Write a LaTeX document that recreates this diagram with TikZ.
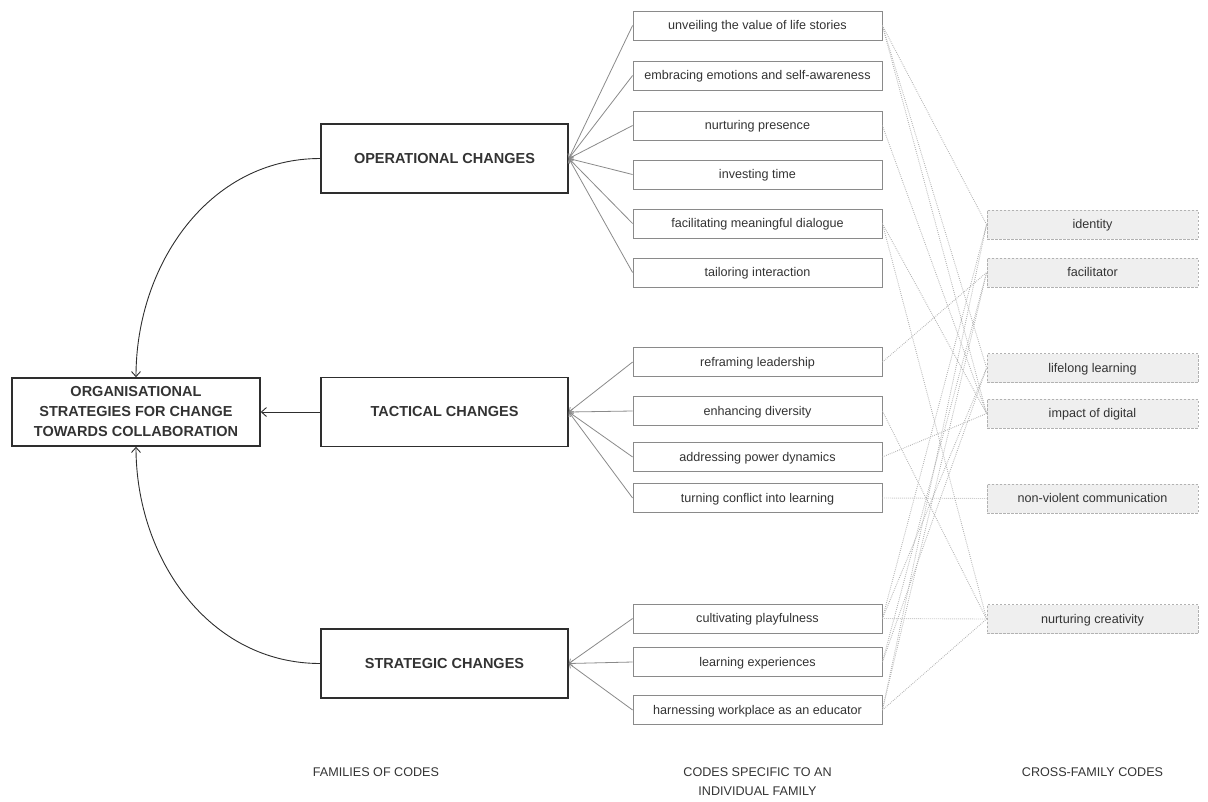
\documentclass[tikz,border=0pt]{standalone}
\usepackage{fontspec}
\setmainfont{Liberation Sans}
\usetikzlibrary{arrows.meta}
\definecolor{txt}{HTML}{333333}
\definecolor{famline}{HTML}{2E2E2E}
\definecolor{kidline}{HTML}{8A8A8A}
\definecolor{crossline}{HTML}{B2B2B2}
\definecolor{crossfill}{HTML}{EFEFEF}
\tikzset{
  mainbox/.style={draw=famline, line width=1.6pt, minimum width=247pt, minimum height=69pt, inner sep=0pt, text=txt, font=\fontsize{14.5}{20}\selectfont\bfseries, align=center},
  kidbox/.style={draw=kidline, line width=0.8pt, minimum width=249pt, minimum height=29pt, inner sep=0pt, text height=8.6pt, text depth=0pt, text=txt, font=\fontsize{12.6}{15}\selectfont},
  crossbox/.style={draw=crossline, fill=crossfill, line width=0.8pt, dash pattern=on 2.5pt off 1.5pt, minimum width=211pt, minimum height=29pt, inner sep=0pt, text height=8.6pt, text depth=0pt, text=txt, font=\fontsize{12.6}{15}\selectfont},
  famlink/.style={draw=famline, line width=0.9pt, -{Straight Barb[length=5pt,width=9pt]}},
  kidlink/.style={draw=kidline, line width=0.8pt, -{Straight Barb[length=3.5pt,width=6pt]}},
  crosslink/.style={draw=crossline, line width=0.9pt, dash pattern=on 0.8pt off 1.2pt},
  caption/.style={text=txt, font=\fontsize{12.6}{19}\selectfont, align=center, anchor=north}
}
\begin{document}
\begin{tikzpicture}[x=1pt,y=1pt]
\useasboundingbox (0,0) rectangle (1208,-801);
% main boxes
\node[mainbox, minimum width=248pt, minimum height=68pt] (org) at (136,-412) {ORGANISATIONAL\\STRATEGIES FOR CHANGE\\TOWARDS COLLABORATION};
\node[mainbox] (op) at (444.5,-158.5) {OPERATIONAL CHANGES};
\node[mainbox] (tac) at (444.5,-412) {TACTICAL CHANGES};
\node[mainbox] (str) at (444.5,-663.5) {STRATEGIC CHANGES};
% family links
\draw[famlink] (op.west) to[out=180,in=90] (org.north);
\draw[famlink] (str.west) to[out=180,in=-90] (org.south);
\draw[famlink] (tac.west) -- (org.east);
% codes specific to a family
\node[kidbox] (k1) at (757.5,-25.5) {unveiling the value of life stories};
\node[kidbox] (k2) at (757.5,-75.5) {embracing emotions and self-awareness};
\node[kidbox] (k3) at (757.5,-125.5) {nurturing presence};
\node[kidbox] (k4) at (757.5,-174.5) {investing time};
\node[kidbox] (k5) at (757.5,-223.5) {facilitating meaningful dialogue};
\node[kidbox] (k6) at (757.5,-272.5) {tailoring interaction};
\node[kidbox] (k7) at (757.5,-362) {reframing leadership};
\node[kidbox] (k8) at (757.5,-411) {enhancing diversity};
\node[kidbox] (k9) at (757.5,-457) {addressing power dynamics};
\node[kidbox] (k10) at (757.5,-498) {turning conflict into learning};
\node[kidbox] (k11) at (757.5,-618.5) {cultivating playfulness};
\node[kidbox] (k12) at (757.5,-662) {learning experiences};
\node[kidbox] (k13) at (757.5,-710) {harnessing workplace as an educator};
% cross-family codes
\node[crossbox] (c1) at (1092.5,-224.5) {identity};
\node[crossbox] (c2) at (1092.5,-272.5) {facilitator};
\node[crossbox] (c3) at (1092.5,-368) {lifelong learning};
\node[crossbox] (c4) at (1092.5,-413.5) {impact of digital};
\node[crossbox] (c5) at (1092.5,-498.5) {non-violent communication};
\node[crossbox] (c6) at (1092.5,-619) {nurturing creativity};
% fan links
\foreach \k in {k1,k2,k3,k4,k5,k6} \draw[kidlink] (\k.west) -- (op.east);
\foreach \k in {k7,k8,k9,k10} \draw[kidlink] (\k.west) -- (tac.east);
\foreach \k in {k11,k12,k13} \draw[kidlink] (\k.west) -- (str.east);
% cross links
\foreach \a/\b in {k1/c1,k1/c3,k1/c4,k3/c4,k5/c4,k5/c6,k7/c2,k8/c6,k9/c4,k10/c5,k11/c6,k11/c1,k11/c3,k12/c2,k12/c3,k13/c6,k13/c2,k13/c1}
  \draw[crosslink] (\a.east) -- (\b.west);
% captions
\node[caption] (cap1) at (376,-764) {FAMILIES OF CODES};
\node[caption] (cap2) at (757.5,-764) {CODES SPECIFIC TO AN\\INDIVIDUAL FAMILY};
\node[caption] (cap3) at (1092.5,-764) {CROSS-FAMILY CODES};
\end{tikzpicture}
\end{document}
